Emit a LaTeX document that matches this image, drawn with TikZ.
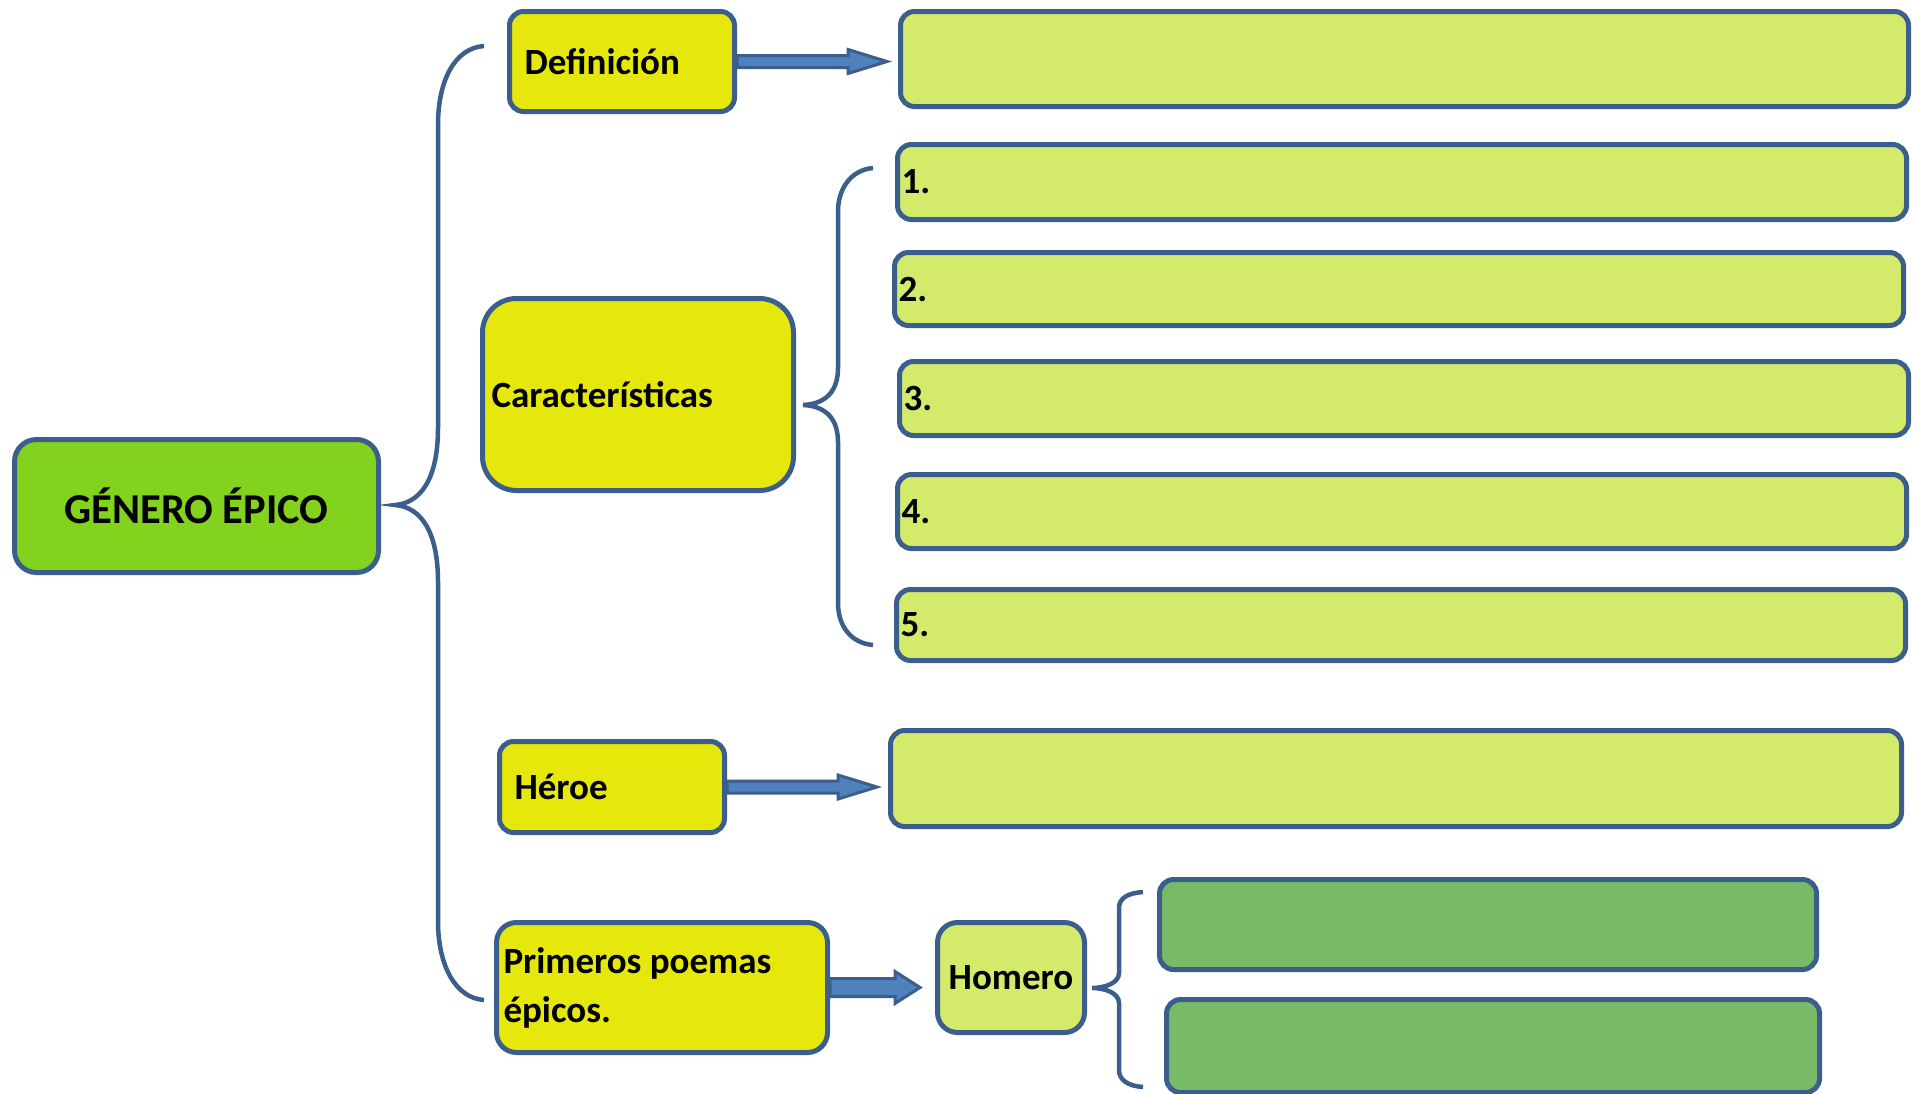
\documentclass[tikz,border=0pt]{standalone}
\usepackage{fontspec}
\setmainfont{Carlito}
\usepackage{tikz}
\usetikzlibrary{calc}
\definecolor{edge}{HTML}{3B5E8C}
\definecolor{arrowblue}{HTML}{4F81BD}
\definecolor{topgreen}{HTML}{83D31E}
\definecolor{lemon}{HTML}{E5E80A}
\definecolor{pale}{HTML}{D4EA6B}
\definecolor{moss}{HTML}{78BA65}
\tikzset{
  box/.style={draw=edge, line width=5pt, anchor=north west, rounded corners=14pt, inner ysep=0pt, text=black, font=\fontsize{37}{49}\selectfont\bfseries},
  lefttext/.style={align=flush left},
  keybox/.style={box, fill=lemon},
  ansbox/.style={box, fill=pale},
  subbox/.style={box, fill=moss},
  brace/.style={draw=edge, line width=4.5pt},
  blockarrow/.style={draw=edge, fill=arrowblue, line width=3pt, line join=miter},
}
\begin{document}
\begin{tikzpicture}[x=1pt, y=-1pt]
  \useasboundingbox (0,0) rectangle (1913,1093);

  % main node
  \node[box, fill=topgreen, rounded corners=22pt, minimum width=364pt, minimum height=133pt,
        font=\fontsize{42.5}{49}\selectfont\bfseries] (title) at (12,437) {GÉNERO ÉPICO};

  % branches
  \node[keybox, lefttext, minimum height=100pt, text width=195pt, inner xsep=15pt] (def) at (507,9) {Definición};
  \node[keybox, lefttext, rounded corners=34pt, minimum height=192pt, text width=293pt, inner xsep=9pt] (char) at (480,296) {Características};
  \node[keybox, lefttext, minimum height=91pt, text width=195pt, inner xsep=15pt] (heroe) at (497,739) {Héroe};
  \node[keybox, lefttext, rounded corners=20pt, minimum height=130pt, text width=317pt, inner xsep=7pt] (poemas) at (494,920) {Primeros poemas\\épicos.};

  % answer boxes
  \node[ansbox, minimum width=1008pt, minimum height=95pt] (defans) at (898,9) {};
  \node[ansbox, lefttext, minimum height=75pt, text width=1001pt, inner xsep=4pt] (c1) at (895,142) {1.};
  \node[ansbox, lefttext, minimum height=73pt, text width=1001pt, inner xsep=4pt] (c2) at (892,250) {2.};
  \node[ansbox, lefttext, minimum height=74pt, text width=1001pt, inner xsep=4pt] (c3) at (897,359) {3.};
  \node[ansbox, lefttext, minimum height=74pt, text width=1001pt, inner xsep=4pt] (c4) at (895,472) {4.};
  \node[ansbox, lefttext, minimum height=71pt, text width=1001pt, inner xsep=4pt] (c5) at (894,587) {5.};
  \node[ansbox, minimum width=1011pt, minimum height=96pt] (heroeans) at (888,728) {};
  \node[ansbox, rounded corners=20pt, minimum width=147pt, minimum height=110pt] (homero) at (935,920) {Homero};
  \node[subbox, minimum width=657pt, minimum height=90pt] (obra1) at (1157,877) {};
  \node[subbox, minimum width=653pt, minimum height=93pt] (obra2) at (1164,997) {};

  % braces
  \coordinate (mtop) at (484,46);
  \coordinate (mtip) at (395,505);
  \coordinate (mbot) at (484,1000);
  \draw[brace] (mtop) .. controls (455,48) and (438,80) .. (438,125) -- (438,428)
    .. controls (438,480) and (420,503) .. (mtip)
    .. controls (420,507) and (438,530) .. (438,582) -- (438,921)
    .. controls (438,965) and (455,998) .. (mbot);
  \coordinate (ctop) at (873,168);
  \coordinate (ctip) at (803,405);
  \coordinate (cbot) at (873,645);
  \draw[brace] (ctop) .. controls (850,170) and (838,190) .. (838,211) -- (838,368)
    .. controls (838,392) and (825,404) .. (ctip)
    .. controls (825,406) and (838,418) .. (838,442) -- (838,603)
    .. controls (838,625) and (850,643) .. (cbot);
  \coordinate (htop) at (1143,892);
  \coordinate (htip) at (1092,988);
  \coordinate (hbot) at (1143,1087);
  \draw[brace] (htop) .. controls (1128,893) and (1119,898) .. (1119,908) -- (1119,973)
    .. controls (1119,983) and (1105,988) .. (htip)
    .. controls (1105,988) and (1119,993) .. (1119,1003) -- (1119,1070)
    .. controls (1119,1080) and (1128,1086) .. (hbot);

  % block arrows
  \draw[blockarrow] ($(def.east)+(0,6)$) -- ($(def.east -| defans.west)+(-50,6)$)
    -- ($(def.east -| defans.west)+(-50,12)$) -- ($(def.east -| defans.west)+(-11,0)$)
    -- ($(def.east -| defans.west)+(-50,-12)$) -- ($(def.east -| defans.west)+(-50,-6)$)
    -- ($(def.east)+(0,-6)$) -- cycle;
  \draw[blockarrow] ($(heroe.east)+(0,6)$) -- ($(heroe.east -| heroeans.west)+(-50,6)$)
    -- ($(heroe.east -| heroeans.west)+(-50,12)$) -- ($(heroe.east -| heroeans.west)+(-11,0)$)
    -- ($(heroe.east -| heroeans.west)+(-50,-12)$) -- ($(heroe.east -| heroeans.west)+(-50,-6)$)
    -- ($(heroe.east)+(0,-6)$) -- cycle;
  \draw[blockarrow] ($(poemas.east)+(0,9)$) -- ($(poemas.east -| homero.west)+(-40,9)$)
    -- ($(poemas.east -| homero.west)+(-40,16)$) -- ($(poemas.east -| homero.west)+(-15,0)$)
    -- ($(poemas.east -| homero.west)+(-40,-16)$) -- ($(poemas.east -| homero.west)+(-40,-9)$)
    -- ($(poemas.east)+(0,-9)$) -- cycle;
\end{tikzpicture}
\end{document}
